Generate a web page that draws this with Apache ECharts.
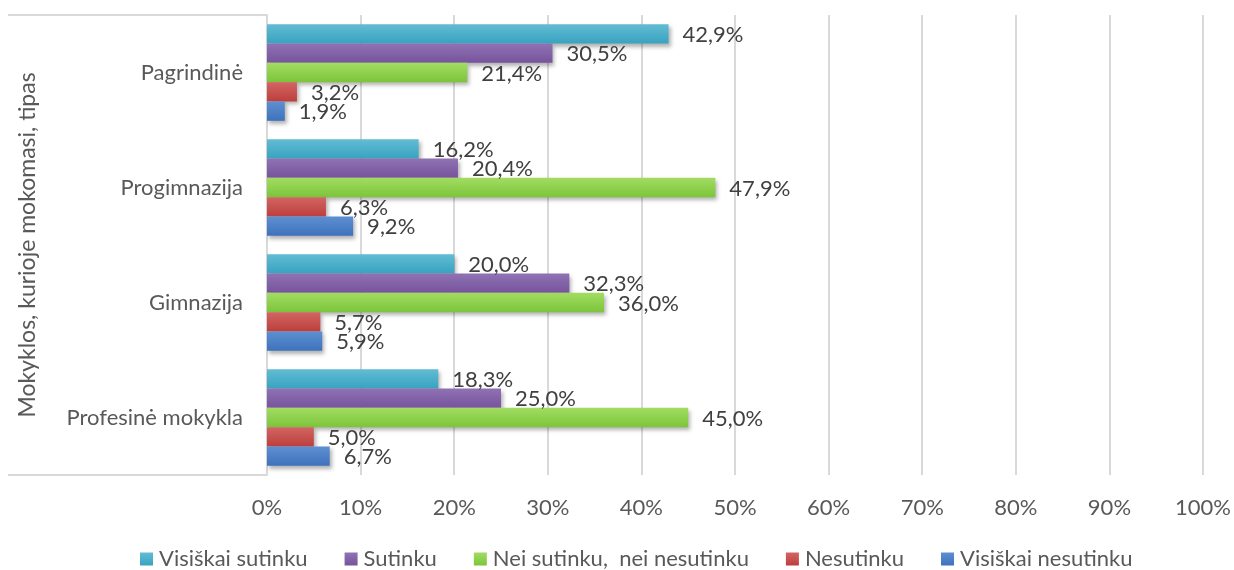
<!DOCTYPE html>
<html><head><meta charset="utf-8">
<script src="https://cdn.jsdelivr.net/npm/echarts@6/dist/echarts.min.js"></script>
<style>html,body{margin:0;padding:0;background:#fff}#c{width:1234px;height:570px}</style>
</head><body><div id="c"></div>
<script>
const categories = ['Pagrindinė', 'Progimnazija', 'Gimnazija', 'Profesinė mokykla'];
const seriesNames = ['Visiškai sutinku', 'Sutinku', 'Nei sutinku,  nei nesutinku', 'Nesutinku', 'Visiškai nesutinku'];
const visiskaiSutinku = [42.9, 16.2, 20.0, 18.3];
const sutinku = [30.5, 20.4, 32.3, 25.0];
const neiNei = [21.4, 47.9, 36.0, 45.0];
const nesutinku = [3.2, 6.3, 5.7, 5.0];
const visiskaiNesutinku = [1.9, 9.2, 5.9, 6.7];
const xTicks = [0, 10, 20, 30, 40, 50, 60, 70, 80, 90, 100];
const axisTitle = 'Mokyklos, kurioje mokomasi, tipas';

const seriesData = [visiskaiSutinku, sutinku, neiNei, nesutinku, visiskaiNesutinku];
const colorPairs = [
  ['#62bcd4', '#38a3c0'],
  ['#8f72b4', '#77539c'],
  ['#a2dc62', '#7cc53a'],
  ['#d26563', '#bd3f3c'],
  ['#5f8fd2', '#3d72bc']
];
const FONT = 'Lato, "Open Sans", sans-serif';
const FS = 22;
const chart = echarts.init(document.getElementById('c'));
const grid = {left: 267, right: 29, top: 15, bottom: 95};
chart.setOption({
  animation: false,
  textStyle: {fontFamily: FONT},
  grid: grid,
  legend: {
    top: 543, left: 135, itemWidth: 13, itemHeight: 13, itemGap: 37,
    icon: 'rect',
    textStyle: {fontSize: 22, color: '#595959', fontFamily: FONT, padding: [0, 0, 0, 1]},
    data: seriesNames
  },
  xAxis: {
    type: 'value', min: xTicks[0], max: xTicks[xTicks.length - 1], interval: 10,
    axisLabel: {formatter: v => v + '%', fontSize: FS, color: '#595959', margin: 22, fontFamily: FONT},
    splitLine: {lineStyle: {color: '#d9d9d9', width: 2}},
    axisLine: {show: false}, axisTick: {show: false}
  },
  yAxis: {
    type: 'category', inverse: true, data: categories,
    name: axisTitle, nameLocation: 'middle', nameGap: 228, nameRotate: 90,
    nameTextStyle: {fontSize: 23, color: '#595959', fontFamily: FONT},
    axisLabel: {fontSize: FS, color: '#595959', margin: 24, fontFamily: FONT},
    axisLine: {lineStyle: {color: '#d9d9d9', width: 2}},
    axisTick: {show: false}
  },
  graphic: [
    {type: 'line', shape: {x1: 8, y1: 15, x2: 267, y2: 15}, style: {stroke: '#d9d9d9', lineWidth: 2}, silent: true},
    {type: 'line', shape: {x1: 8, y1: 475, x2: 267, y2: 475}, style: {stroke: '#d9d9d9', lineWidth: 2}, silent: true}
  ],
  series: seriesNames.map((n, i) => ({
    name: n, type: 'bar', data: seriesData[i],
    barGap: '0%', barCategoryGap: '16%',
    itemStyle: {
      color: new echarts.graphic.LinearGradient(0, 0, 0, 1, [{offset: 0, color: colorPairs[i][0]}, {offset: 1, color: colorPairs[i][1]}]),
      shadowColor: 'rgba(0,0,0,0.3)', shadowBlur: 4, shadowOffsetX: 2, shadowOffsetY: 3
    },
    label: {
      show: true, position: 'right', distance: 14, fontSize: FS, color: '#404040', fontFamily: FONT,
      offset: [0, 1],
      formatter: p => p.value.toFixed(1).replace('.', ',') + '%'
    }
  }))
});
</script></body></html>
